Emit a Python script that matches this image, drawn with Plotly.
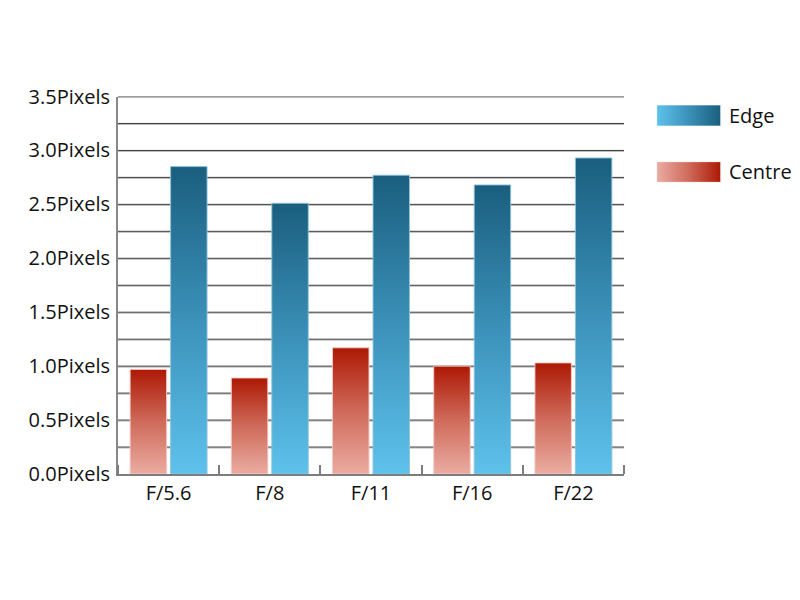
import numpy as np
import plotly.graph_objects as go

categories = ["F/5.6", "F/8", "F/11", "F/16", "F/22"]
centre_values = [0.97, 0.89, 1.17, 1.00, 1.03]
edge_values = [2.85, 2.51, 2.77, 2.68, 2.93]
y_ticks = [0.0, 0.5, 1.0, 1.5, 2.0, 2.5, 3.0, 3.5]
y_labels = [f"{v:.1f}Pixels" for v in y_ticks]

# page body has an 8px margin, so the figure starts at (8, 8)
OFF = 8
W, H = 792, 592


def px(x):
    return (x - OFF) / W


def py(y):
    return 1 - (y - OFF) / H


PL, PR, PT, PB = 118, 624, 96.5, 474

centre_scale = [[0, "#ebaca2"], [0.5, "#cf6a5a"], [1, "#ad1904"]]
edge_scale = [[0, "#5ec2ec"], [0.5, "#3b91b9"], [1, "#1a5e7e"]]

series = [
    ("Centre", centre_values, centre_scale, (-0.38, -0.02), "rgba(245,200,195,0.9)"),
    ("Edge", edge_values, edge_scale, (0.02, 0.38), "rgba(140,195,220,0.9)"),
]

fig = go.Figure()
for name, vals, scale, (a, b), edge in series:
    for i, v in enumerate(vals):
        fig.add_trace(go.Scatter(
            x=[i + a, i + a, i + b, i + b, i + a],
            y=[0, v, v, 0, 0],
            mode="lines",
            fill="toself",
            fillgradient=dict(type="vertical", colorscale=scale),
            line=dict(color=edge, width=1),
            showlegend=False,
            name=name,
            hoverinfo="skip",
            xaxis="x", yaxis="y",
        ))

legend_items = [("Edge", edge_scale, 105, 126, "x2", "y2"),
                ("Centre", centre_scale, 161.7, 182.3, "x3", "y3")]
for name, scale, top, bot, xa, ya in legend_items:
    fig.add_trace(go.Scatter(
        x=[0, 0, 1, 1, 0], y=[0, 1, 1, 0, 0], mode="lines", fill="toself",
        fillgradient=dict(type="horizontal", colorscale=scale),
        line=dict(color="rgba(255,255,255,0.6)", width=1),
        showlegend=False, hoverinfo="skip", xaxis=xa, yaxis=ya))
    fig.add_annotation(text=name, x=px(727), y=py((top + bot) / 2),
                       xref="paper", yref="paper", xanchor="left", yanchor="middle",
                       showarrow=False, font=dict(size=20, color="#111"))

font = "Open Sans, DejaVu Sans, sans-serif"
hidden = dict(visible=False, range=[0, 1], fixedrange=True)

grid_vals = np.arange(0.25, 3.5 + 0.01, 0.25)
shapes = []
for v in grid_vals:
    shapes.append(dict(type="line", xref="x domain", x0=0, x1=1, yref="y",
                       ysizemode="pixel", yanchor=float(v), y0=-1, y1=-1,
                       line=dict(color="#b8b8b8", width=1), layer="below"))
    shapes.append(dict(type="line", xref="x domain", x0=0, x1=1, yref="y",
                       y0=float(v), y1=float(v),
                       line=dict(color="#3a3a3a", width=1), layer="below"))

fig.update_layout(
    width=W, height=H,
    margin=dict(l=0, r=0, t=0, b=0),
    paper_bgcolor="white", plot_bgcolor="white",
    font=dict(family=font, size=20, color="#111"),
    showlegend=False,
    template="none",
    shapes=shapes,
    xaxis=dict(
        domain=[px(PL), px(PR)], range=[-0.5, 4.5],
        tickmode="array", tickvals=list(range(len(categories))), ticktext=categories,
        ticks="", showgrid=False, zeroline=False,
        showline=True, linecolor="#7d7d7d", linewidth=2,
        tickfont=dict(size=20), ticklabelstandoff=0,
        minor=dict(tickmode="array",
                   tickvals=[i - 0.5 for i in range(len(categories) + 1)],
                   ticks="inside", ticklen=9, tickwidth=2, tickcolor="#7d7d7d",
                   showgrid=False),
        automargin=False, fixedrange=True,
    ),
    yaxis=dict(
        domain=[py(PB), py(PT)], range=[0, 3.5],
        tickmode="array", tickvals=y_ticks, ticktext=y_labels,
        ticks="", showgrid=False,
        zeroline=False, showline=True, linecolor="#888888", linewidth=2,
        tickfont=dict(size=20), ticklabelstandoff=2,
        automargin=False, fixedrange=True,
    ),
    xaxis2=dict(domain=[px(656.7), px(720.7)], anchor="y2", **hidden),
    yaxis2=dict(domain=[py(126), py(105)], anchor="x2", **hidden),
    xaxis3=dict(domain=[px(656.7), px(720.7)], anchor="y3", **hidden),
    yaxis3=dict(domain=[py(182.3), py(161.7)], anchor="x3", **hidden),
)

fig.write_html("out.html")
